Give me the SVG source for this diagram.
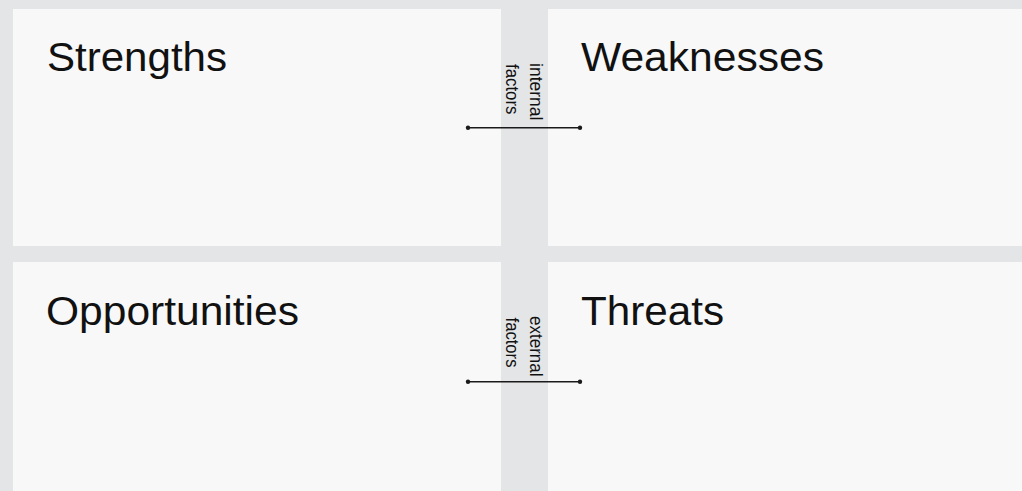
<svg xmlns="http://www.w3.org/2000/svg" width="1022" height="491" viewBox="0 0 1022 491">
<style>
.panel{fill:#f8f8f8}
.title{font-family:"Liberation Sans",Arial,sans-serif;font-size:40px;fill:#111}
.side{font-family:"Liberation Sans",Arial,sans-serif;font-size:17.5px;fill:#111}
.conn{stroke:#1a1a1a;stroke-width:1.4;fill:none}
.dot{fill:#1a1a1a}
</style>
<rect x="0" y="0" width="1022" height="491" fill="#e4e5e7"/>
<g id="strengths">
<rect class="panel" x="13" y="9" width="488" height="237"/>
<text class="title" x="47" y="71" textLength="180" lengthAdjust="spacingAndGlyphs">Strengths</text>
</g>
<g id="weaknesses">
<rect class="panel" x="548" y="9" width="480" height="237"/>
<text class="title" x="581" y="71" textLength="243" lengthAdjust="spacingAndGlyphs">Weaknesses</text>
</g>
<g id="opportunities">
<rect class="panel" x="13" y="262" width="488" height="235"/>
<text class="title" x="46" y="324.5" textLength="253" lengthAdjust="spacingAndGlyphs">Opportunities</text>
</g>
<g id="threats">
<rect class="panel" x="548" y="262" width="480" height="235"/>
<text class="title" x="581" y="324.5" textLength="143" lengthAdjust="spacingAndGlyphs">Threats</text>
</g>
<g id="internal-factors">
<text class="side" x="529.5" y="63" transform="rotate(90 529.5 63)" textLength="57.5" lengthAdjust="spacingAndGlyphs">internal</text>
<text class="side" x="505.5" y="64" transform="rotate(90 505.5 64)" textLength="50.5" lengthAdjust="spacingAndGlyphs">factors</text>
</g>
<g id="external-factors">
<text class="side" x="529.5" y="316" transform="rotate(90 529.5 316)" textLength="60.5" lengthAdjust="spacingAndGlyphs">external</text>
<text class="side" x="505.5" y="317.5" transform="rotate(90 505.5 317.5)" textLength="50" lengthAdjust="spacingAndGlyphs">factors</text>
</g>
<g id="connectors">
<line class="conn" x1="468" y1="127.8" x2="580" y2="127.8"/>
<circle class="dot" cx="468" cy="127.8" r="2.2"/>
<circle class="dot" cx="580" cy="127.8" r="2.2"/>
<line class="conn" x1="468" y1="381.7" x2="580" y2="381.7"/>
<circle class="dot" cx="468" cy="381.7" r="2.2"/>
<circle class="dot" cx="580" cy="381.7" r="2.2"/>
</g>
</svg>
